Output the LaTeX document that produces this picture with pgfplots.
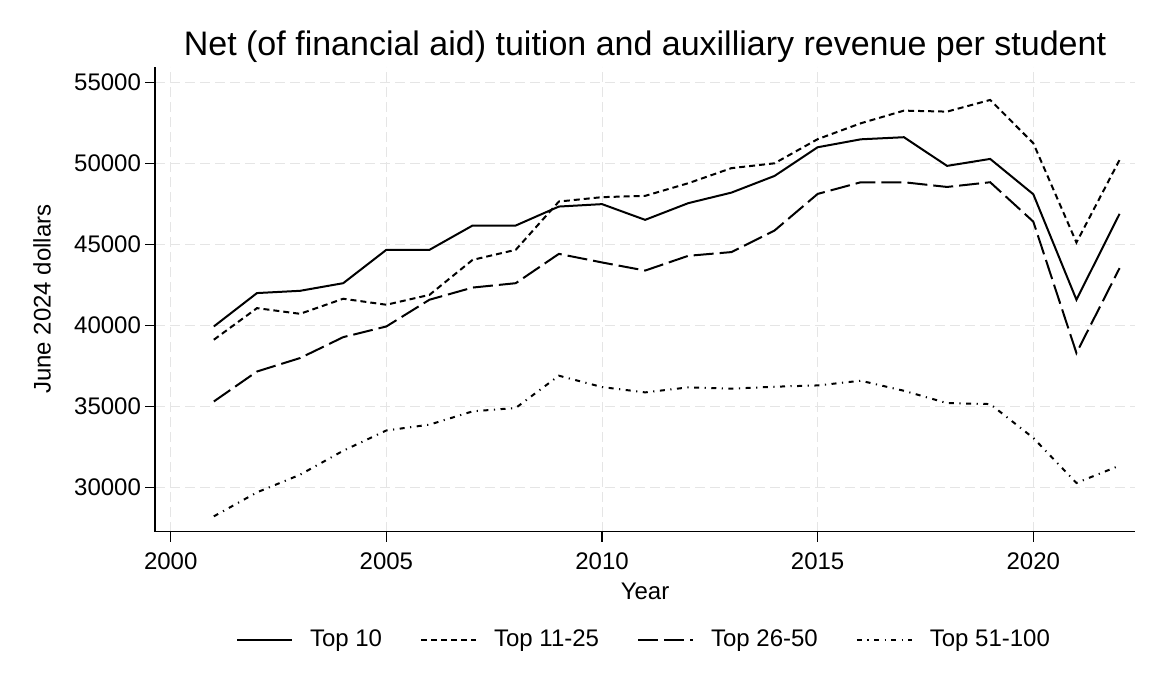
\documentclass[border=0pt]{standalone}
\usepackage{pgfplots}
\pgfplotsset{compat=1.18}
\usepackage{pgfplotstable}
\usepackage{fontspec}
\setmainfont{Liberation Sans}

\pgfplotstableread{
year top10 top1125 top2650 top51100
2001 39930 39110 35300 28210
2002 41990 41060 37150 29690
2003 42130 40710 37980 30780
2004 42600 41640 39270 32260
2005 44660 41270 39930 33510
2006 44660 41880 41580 33870
2007 46160 44040 42330 34690
2008 46160 44660 42600 34900
2009 47330 47640 44410 36890
2010 47480 47910 43880 36190
2011 46510 47990 43380 35860
2012 47540 48770 44290 36170
2013 48190 49700 44520 36090
2014 49220 50000 45850 36210
2015 50990 51490 48110 36290
2016 51480 52470 48830 36580
2017 51610 53250 48830 35960
2018 49840 53190 48540 35200
2019 50270 53910 48830 35140
2020 48090 51240 46400 33050
2021 41580 45110 38290 30270
2022 46880 50210 43530 31340
}\data

\begin{document}
\begin{tikzpicture}
\useasboundingbox (-77.5pt,-82.15pt) rectangle (502.5pt,265.85pt);
\begin{axis}[
  scale only axis,
  width=490pt, height=232.5pt,
  xmin=1999.636, xmax=2022.358,
  ymin=27262, ymax=55962,
  axis x line*=bottom, axis y line*=left,
  axis line style={-, line width=0.65pt, black},
  xtick={2000,2005,...,2020},
  ytick={30000,35000,...,55000},
  scaled x ticks=false, scaled y ticks=false,
  tick align=outside,
  major tick length=5pt,
  tick style={line width=0.65pt, black},
  /pgf/number format/assume math mode=true,
  /pgf/number format/fixed,
  /pgf/number format/1000 sep={},
  ticklabel style={font=\fontsize{12}{14}\selectfont},
  xticklabel style={yshift=-2pt},
  yticklabel style={xshift=1.5pt},
  xmajorgrids, ymajorgrids,
  major grid style={draw=black!10, dash pattern=on 5pt off 2.5pt, line width=0.5pt},
  every axis title shift=0pt,
  title={Net (of financial aid) tuition and auxilliary revenue per student},
  title style={font=\fontsize{17}{20}\selectfont, at={([yshift=5.35pt]axis description cs:0.5,1)}, anchor=base},
  xlabel={Year},
  xlabel style={font=\fontsize{12}{14}\selectfont, at={([yshift=-34pt]axis description cs:0.5,0)}, anchor=base},
  ylabel={June 2024 dollars},
  ylabel style={font=\fontsize{12}{14}\selectfont, at={([xshift=-56.5pt]axis description cs:0,0.5)}, anchor=center},
  legend columns=4,
  legend style={at={(axis description cs:0.5,-0.233)}, anchor=center, draw=none,
    font=\fontsize{12}{14}\selectfont, inner sep=0pt,
    /tikz/every odd column/.append style={column sep=6.5pt},
    /tikz/every even column/.append style={column sep=17pt}},
  legend image code/.code={\draw[#1] (0pt,0pt) -- (27.5pt,0pt);},
  every axis plot/.append style={line width=1pt, black},
]
\addplot[solid] table[x=year, y=top10] {\data};
\addlegendentry{Top 10}
\addplot[dash pattern=on 3pt off 2pt] table[x=year, y=top1125] {\data};
\addlegendentry{Top 11-25}
\addplot[dash pattern=on 10pt off 3pt] table[x=year, y=top2650] {\data};
\addlegendentry{Top 26-50}
\addplot[dash pattern=on 2.5pt off 2.75pt on 0.6pt off 2.75pt] table[x=year, y=top51100] {\data};
\addlegendentry{Top 51-100}
\end{axis}
\end{tikzpicture}
\end{document}
